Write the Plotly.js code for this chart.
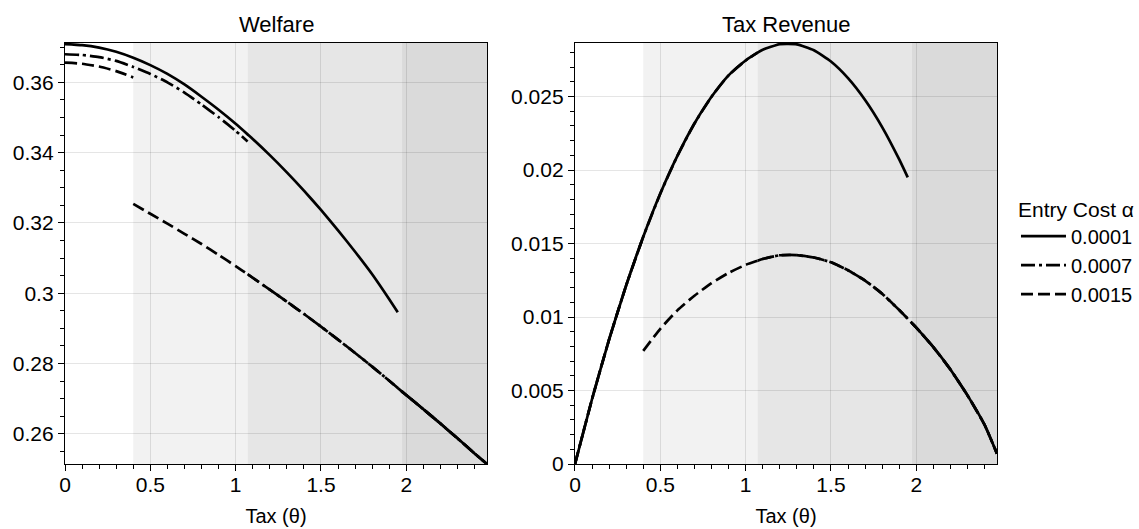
<!DOCTYPE html>
<html>
<head>
<meta charset="utf-8">
<script src="https://cdn.plot.ly/plotly-3.0.1.min.js"></script>
<style>html,body{margin:0;padding:0;background:#fff;}#chart{width:1139px;height:529px;}</style>
</head>
<body>
<div id="chart"></div>
<script>
// ---- data ----
const alphaLabels = ['0.0001', '0.0007', '0.0015'];
// tax level at which each entry cost switches from the upper to the lower branch
const switchTheta = [1.975, 1.07, 0.4];
// regime boundaries used for background shading
const regimeBounds = [0.4, 1.07, 1.975];
const thetaMax = 2.473;

// upper branch grid
const thetaHigh = [0, 0.1, 0.2, 0.3, 0.4, 0.5, 0.6, 0.7, 0.8, 0.9, 1.0, 1.07, 1.1, 1.2, 1.3, 1.4, 1.5, 1.6, 1.7, 1.8, 1.9, 1.95];
const welfareHigh0001 = [0.3709, 0.3706, 0.3699, 0.3687, 0.3670, 0.3649, 0.3624, 0.3594, 0.3559, 0.3522, 0.3482, 0.3452, 0.3439, 0.3393, 0.3344, 0.3292, 0.3237, 0.3179, 0.3118, 0.3054, 0.2983, 0.2946];
const welfareHigh0007 = [0.3680, 0.3678, 0.3672, 0.3661, 0.3644, 0.3624, 0.3600, 0.3571, 0.3537, 0.3501, 0.3462, 0.3432];
const welfareHigh0015 = [0.3656, 0.3653, 0.3645, 0.3632, 0.3614];
const revenueHigh = [0, 0.00442, 0.00847, 0.01215, 0.01546, 0.01840, 0.02096, 0.02316, 0.02498, 0.02644, 0.02745, 0.02798, 0.02818, 0.02856, 0.02855, 0.02815, 0.02738, 0.02625, 0.02476, 0.02292, 0.02072, 0.01950];

// lower branch grid (shared by all entry costs)
const thetaLow = [0.4, 0.5, 0.6, 0.7, 0.8, 0.9, 1.0, 1.07, 1.1, 1.2, 1.3, 1.4, 1.5, 1.6, 1.7, 1.8, 1.9, 1.975, 2.0, 2.1, 2.2, 2.3, 2.4, 2.473];
const welfareLow = [0.3254, 0.3226, 0.3198, 0.3169, 0.3140, 0.3109, 0.3077, 0.3054, 0.3044, 0.3010, 0.2976, 0.2941, 0.2905, 0.2868, 0.2830, 0.2791, 0.2751, 0.2720, 0.2710, 0.2670, 0.2629, 0.2587, 0.2544, 0.2514];
const revenueLow = [0.0077, 0.0092, 0.01045, 0.01145, 0.0123, 0.0130, 0.01355, 0.01383, 0.01395, 0.0142, 0.01421, 0.01405, 0.01372, 0.01318, 0.01248, 0.01158, 0.01048, 0.00958, 0.00928, 0.00795, 0.00643, 0.00467, 0.00267, 0.0007];

const welfareHighByAlpha = [welfareHigh0001, welfareHigh0007, welfareHigh0015];

// ---- build traces ----
const dashes = ['solid', '14px,4px,3px,4px', '12px,5px'];
const LW = 2.7;

function series(highVals, lowVals, sw) {
  const x = [], y = [];
  for (let i = 0; i < highVals.length; i++) {
    if (thetaHigh[i] <= sw + 1e-9) { x.push(thetaHigh[i]); y.push(highVals[i]); }
  }
  x.push(null); y.push(null);
  for (let i = 0; i < thetaLow.length; i++) {
    if (thetaLow[i] >= sw - 1e-9) { x.push(thetaLow[i]); y.push(lowVals[i]); }
  }
  return {x, y};
}

const traces = [];
alphaLabels.forEach((lab, k) => {
  const w = series(welfareHighByAlpha[k], welfareLow, switchTheta[k]);
  traces.push({
    x: w.x, y: w.y, xaxis: 'x', yaxis: 'y', type: 'scatter', mode: 'lines',
    name: lab, legendgroup: lab, showlegend: true, connectgaps: false,
    line: {color: 'black', width: LW, dash: dashes[k], shape: 'spline', smoothing: 0.5},
    hoverinfo: 'skip'
  });
});
alphaLabels.forEach((lab, k) => {
  const r = series(revenueHigh, revenueLow, switchTheta[k]);
  traces.push({
    x: r.x, y: r.y, xaxis: 'x2', yaxis: 'y2', type: 'scatter', mode: 'lines',
    name: lab, legendgroup: lab, showlegend: false, connectgaps: false,
    line: {color: 'black', width: LW, dash: dashes[k], shape: 'spline', smoothing: 0.5},
    hoverinfo: 'skip'
  });
});

// ---- shading ----
const shadeFill = ['#f2f2f2', '#e6e6e6', '#dadada'];
const shapes = [];
['x', 'x2'].forEach((xr, j) => {
  const yr = j === 0 ? 'y' : 'y2';
  for (let i = 0; i < regimeBounds.length; i++) {
    shapes.push({
      type: 'rect', xref: xr, yref: yr + ' domain', layer: 'below',
      x0: regimeBounds[i], x1: i + 1 < regimeBounds.length ? regimeBounds[i + 1] : thetaMax,
      y0: 0, y1: 1, fillcolor: shadeFill[i], line: {width: 0}
    });
  }
});

const FONT = 'Liberation Sans, Arial, Helvetica, sans-serif';
function xAxis(domain, anchor) {
  return {
    domain: domain, anchor: anchor, range: [0, thetaMax], tick0: 0, dtick: 0.5,
    ticks: 'outside', ticklen: 6, tickwidth: 1, tickcolor: 'black',
    showline: true, mirror: true, linecolor: 'black', linewidth: 1.2,
    showgrid: true, gridcolor: 'rgba(0,0,0,0.1)', gridwidth: 1, zeroline: false,
    tickfont: {size: 21, color: 'black'}, ticklabelstandoff: -4,
    minor: {tick0: 0, dtick: 0.1, ticks: 'outside', ticklen: 3.5, tickwidth: 1, tickcolor: 'black', showgrid: false},
    title: {text: 'Tax (θ)', font: {size: 20, color: 'black'}, standoff: 13}
  };
}
function yAxis(range, dtick, minorDtick, anchor) {
  return {
    anchor: anchor, range: range, tick0: 0, dtick: dtick,
    ticks: 'outside', ticklen: 6, tickwidth: 1, tickcolor: 'black',
    showline: true, mirror: true, linecolor: 'black', linewidth: 1.2,
    showgrid: true, gridcolor: 'rgba(0,0,0,0.1)', gridwidth: 1, zeroline: false,
    tickfont: {size: 21, color: 'black'},
    minor: {tick0: 0, dtick: minorDtick, ticks: 'outside', ticklen: 3.5, tickwidth: 1, tickcolor: 'black', showgrid: false}
  };
}

const layout = {
  width: 1139, height: 529,
  margin: {l: 65, r: 142, t: 43, b: 65, pad: 0},
  paper_bgcolor: 'white', plot_bgcolor: 'white',
  font: {family: FONT, size: 20, color: 'black'},
  xaxis: xAxis([0, 0.4528], 'y'),
  yaxis: yAxis([0.2514, 0.3712], 0.02, 0.005, 'x'),
  xaxis2: xAxis([0.5472, 1], 'y2'),
  yaxis2: yAxis([0, 0.02864], 0.005, 0.001, 'x2'),
  shapes: shapes,
  annotations: [
    {text: 'Welfare', xref: 'x domain', yref: 'y domain', x: 0.5, y: 1, xanchor: 'center', yanchor: 'bottom', yshift: 4, showarrow: false, font: {size: 22, color: 'black'}},
    {text: 'Tax Revenue', xref: 'x2 domain', yref: 'y2 domain', x: 0.5, y: 1, xanchor: 'center', yanchor: 'bottom', yshift: 4, showarrow: false, font: {size: 22, color: 'black'}}
  ],
  legend: {
    title: {text: 'Entry Cost α', font: {size: 21, color: 'black'}},
    xref: 'container', yref: 'container',
    x: 0.892, y: 0.642, xanchor: 'left', yanchor: 'top',
    font: {size: 20, color: 'black'}, bgcolor: 'rgba(0,0,0,0)', borderwidth: 0,
    itemwidth: 45, tracegroupgap: 5.5, traceorder: 'normal'
  },
  showlegend: true
};

Plotly.newPlot('chart', traces, layout, {staticPlot: true, displayModeBar: false});
</script>
</body>
</html>
